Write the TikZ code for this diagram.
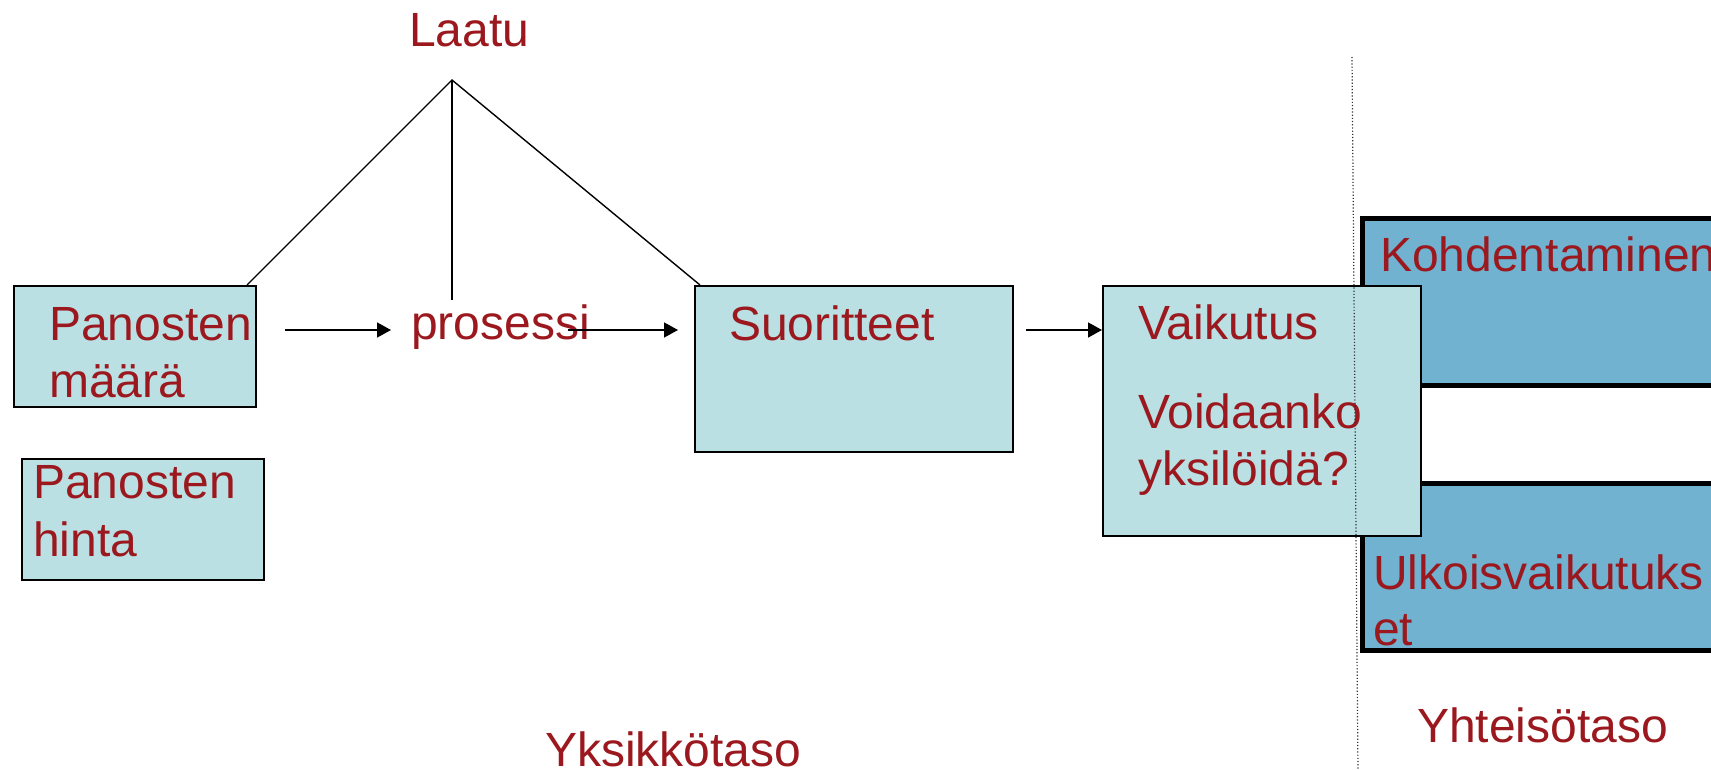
\documentclass[tikz,border=0pt]{standalone}
\usepackage{fontspec}
\setmainfont{Liberation Sans}
\usetikzlibrary{arrows.meta}
\definecolor{txtred}{RGB}{155,25,30}
\definecolor{lightbox}{RGB}{186,224,228}
\definecolor{bluebox}{RGB}{112,178,208}
\begin{document}
\begin{tikzpicture}[x=1pt,y=-1pt,
  lbl/.style={anchor=base west, inner sep=0pt, text=txtred, font=\fontsize{48}{57}\selectfont},
  lightrect/.style={draw=black, line width=1.5pt, fill=lightbox, anchor=north west, inner sep=0pt},
  bluerect/.style={draw=black, line width=5pt, fill=bluebox, anchor=north west, inner sep=0pt},
  conn/.style={line width=1.4pt},
  arr/.style={line width=1.6pt, -{Triangle[length=14pt,width=15pt]}},
  divider/.style={line width=1.2pt, dotted, black!80}]
\useasboundingbox (0,0) rectangle (1711,770);
% boxes
\node[lightrect, minimum width=242pt, minimum height=121pt] (pm) at (13,285) {};
\node[lightrect, minimum width=242pt, minimum height=121pt] (ph) at (21,458) {};
\node[lightrect, minimum width=318pt, minimum height=166pt] (su) at (694,285) {};
\node[bluerect, minimum width=380pt, minimum height=166pt] (ko) at (1360,216.5) {};
\node[bluerect, minimum width=380pt, minimum height=166.5pt] (ul) at (1360,481) {};
\node[lightrect, minimum width=318pt, minimum height=250pt] (va) at (1102,285) {};
% texts
\node[lbl] (t1) at (49,340) {Panosten};
\node[lbl] (t2) at (49,397) {määrä};
\node[lbl] (t3) at (33,498) {Panosten};
\node[lbl] (t4) at (33,556) {hinta};
\node[lbl] (pr) at (411,339) {prosessi};
\node[lbl] (t5) at (729,340) {Suoritteet};
\node[lbl] (t6) at (1138,339) {Vaikutus};
\node[lbl] (t7) at (1138,428) {Voidaanko};
\node[lbl] (t8) at (1138,485) {yksilöidä?};
\node[lbl] (t9) at (1380,271) {Kohdentaminen};
\node[lbl] (t10) at (1373,589) {Ulkoisvaikutuks};
\node[lbl] (t11) at (1373,645) {et};
\node[lbl] (la) at (409,47) {Laatu};
\node[lbl] (yk) at (545,766) {Yksikkötaso};
\node[lbl] (yh) at (1417,742) {Yhteisötaso};
% coordinates
\coordinate (apex) at (452,80);
\coordinate (lft) at (247,285);
\coordinate (rgt) at (700,285);
\coordinate (mid) at (452,300);
\coordinate (a1s) at (285,330);
\coordinate (a1e) at (391,330);
\coordinate (a2s) at (568,330);
\coordinate (a2e) at (678,330);
\coordinate (a3s) at (1026,330);
\coordinate (dtop) at (1352,57);
\coordinate (dbot) at (1358,772);
% connectors
\draw[conn] (lft) -- (apex) -- (rgt);
\draw[conn] (apex) -- (mid);
\draw[arr] (a1s) -- (a1e);
\draw[arr] (a2s) -- (a2e);
\draw[arr] (a3s) -- (a3s -| va.west);
\draw[divider] (dtop) -- (dbot);
\end{tikzpicture}
\end{document}
